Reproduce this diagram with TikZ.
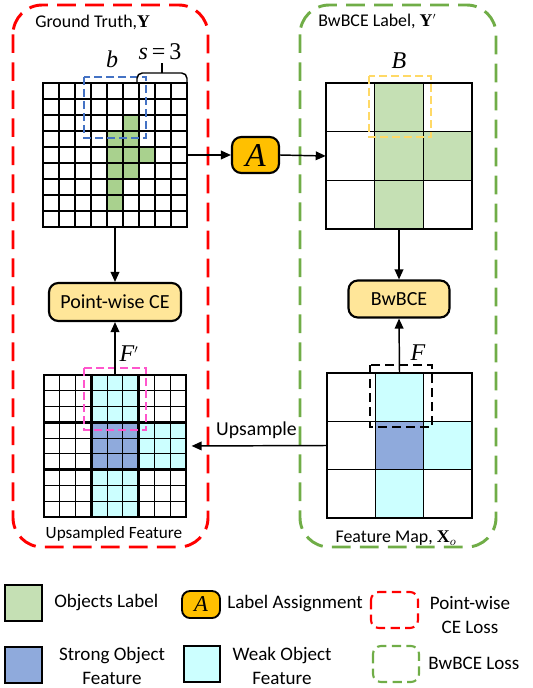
\documentclass[tikz,border=0pt]{standalone}
\usepackage{fontspec}
\setmainfont{Carlito}
\newfontfamily\tms{Liberation Serif}
\usetikzlibrary{arrows.meta,fit}

\definecolor{gtgreen}{HTML}{A9D18E}
\definecolor{lgreen}{HTML}{C5E0B4}
\definecolor{wcyan}{HTML}{CCFFFF}
\definecolor{sblue}{HTML}{8FAADC}
\definecolor{aorange}{HTML}{FFC000}
\definecolor{lorange}{HTML}{FFE699}
\definecolor{lossred}{HTML}{FF0000}
\definecolor{lossgreen}{HTML}{70AD47}
\definecolor{bdash}{HTML}{4472C4}
\definecolor{ydash}{HTML}{FFD966}
\definecolor{mdash}{HTML}{FF55CC}

% 9x9 grid with a thick line every three cells: #1 = x0, #2 = y0, #3 = side
\newcommand\ninegrid[3]{%
  \foreach \k in {1,2,4,5,7,8}{
    \draw[thinline] ({#1+\k*#3/9},#2) -- ({#1+\k*#3/9},{#2+#3});
    \draw[thinline] (#1,{#2+\k*#3/9}) -- ({#1+#3},{#2+\k*#3/9});
  }
  \foreach \k in {3,6}{
    \draw[thickline] ({#1+\k*#3/9},#2) -- ({#1+\k*#3/9},{#2+#3});
    \draw[thickline] (#1,{#2+\k*#3/9}) -- ({#1+#3},{#2+\k*#3/9});
  }
  \draw[thickline] (#1,#2) rectangle ({#1+#3},{#2+#3});
}
% 3x3 grid: #1 = x0, #2 = y0, #3 = side
\newcommand\threegrid[3]{%
  \foreach \k in {1,2}{
    \draw[midline] ({#1+\k*#3/3},#2) -- ({#1+\k*#3/3},{#2+#3});
    \draw[midline] (#1,{#2+\k*#3/3}) -- ({#1+#3},{#2+\k*#3/3});
  }
  \draw[midline] (#1,#2) rectangle ({#1+#3},{#2+#3});
}
% fill one cell: #1 colour, #2 x0, #3 y0, #4 cell size, #5 column, #6 row
\newcommand\cellfill[6]{%
  \fill[#1] ({#2+#5*#4},{#3+#6*#4}) rectangle ++(#4,#4);
}

\tikzset{
  thinline/.style={line width=0.8pt},
  thickline/.style={line width=2pt},
  midline/.style={line width=1.1pt},
  lossbox/.style={line width=2.2pt, rounded corners=22pt, dash pattern=on 14pt off 7pt},
  smallloss/.style={line width=1.6pt, rounded corners=6pt, dash pattern=on 7pt off 4pt},
  selbox/.style={line width=1.3pt, dash pattern=on 6pt off 3pt},
  flow/.style={line width=1.1pt, -{Triangle[length=7.5pt,width=6.5pt]}},
  opbox/.style={draw, line width=1.6pt, rounded corners=7pt, fill=lorange, font=\fontsize{15}{16}\selectfont, inner sep=0pt},
  assign/.style={draw, line width=1.6pt, rounded corners=7pt, fill=aorange, inner sep=0pt},
  gridarea/.style={inner sep=0pt},
  title/.style={font=\fontsize{13.4}{15}\selectfont, inner sep=0pt},
  mathlab/.style={font=\fontsize{18}{20}\selectfont\tms\itshape, inner sep=0pt},
  legtext/.style={font=\fontsize{14.3}{18}\selectfont, inner sep=0pt, align=center},
  swatch/.style={draw, line width=1.6pt},
}

\begin{document}
\begin{tikzpicture}[x=0.75pt,y=-0.75pt]
\useasboundingbox (0,0) rectangle (532,688);

% ---------- loss regions ----------
\draw[lossbox, lossred] (13,5) rectangle (208,547);
\draw[lossbox, lossgreen] (300,5) rectangle (496,547);

\node[title, anchor=west] (tgt) at (35,22) {Ground Truth,{\tms\bfseries Y}};
\node[title, anchor=west] (tlab) at (318,21) {BwBCE Label, {\tms\bfseries Y}$^{\scriptscriptstyle\prime}$};

% ---------- ground truth, 9x9 ----------
\foreach \c/\r in {5/2,4/3,5/3,4/4,5/4,6/4,4/5,5/5,4/6,4/7}{
  \cellfill{gtgreen}{43}{83}{16}{\c}{\r}
}
\ninegrid{43}{83}{144}
\node[gridarea, fit={(43,83)(187,227)}] (gt) {};
\draw[selbox, bdash] (84,77) rectangle (146,138);
\node[mathlab] (lb) at (112,59) {b};
\node[mathlab] (ls) at (160,52) {s{\upshape\,=\,3}};
\draw[line width=1.1pt, rounded corners=4pt] (137,83) -- (137,73) -- (187,73) -- (187,83);
\draw[line width=1.5pt] (162,73) -- (162,63);

% ---------- label assignment ----------
\node[assign, minimum width=47*0.75pt, minimum height=36*0.75pt,
      font=\fontsize{25}{26}\selectfont\tms\itshape] (A) at (255.5,155) {A};

% ---------- BwBCE label, 3x3 ----------
\foreach \c/\r in {1/0,1/1,2/1,1/2}{
  \cellfill{lgreen}{326}{83}{146/3}{\c}{\r}
}
\threegrid{326}{83}{146}
\node[gridarea, fit={(326,83)(472,229)}] (lab) {};
\draw[selbox, ydash] (369,76) rectangle (431,137);
\node[mathlab] (lB) at (399,61) {B};

% ---------- losses ----------
\node[opbox, minimum width=132*0.75pt, minimum height=38*0.75pt] (pce) at (115,302) {Point-wise CE};
\node[opbox, minimum width=101*0.75pt, minimum height=37*0.75pt] (bw) at (399,299) {BwBCE};

% ---------- upsampled feature, 9x9 ----------
\foreach \c/\r in {1/0,2/1,1/2}{
  \fill[wcyan] ({44+\c*142/3},{375+\r*142/3}) rectangle ++(142/3,142/3);
}
\fill[sblue] ({44+142/3},{375+142/3}) rectangle ++(142/3,142/3);
\ninegrid{44}{375}{142}
\node[gridarea, fit={(44,375)(186,517)}] (up) {};
\draw[selbox, mdash] (84,368) rectangle (146,430);
\node[mathlab] (lFp) at (129,354) {F$^{\scriptscriptstyle\prime}$};
\node[title, font=\fontsize{12.9}{15}\selectfont] (tup) at (114,534) {Upsampled Feature};

% ---------- feature map, 3x3 ----------
\foreach \c/\r in {1/0,2/1,1/2}{
  \cellfill{wcyan}{327}{373}{145/3}{\c}{\r}
}
\cellfill{sblue}{327}{373}{145/3}{1}{1}
\threegrid{327}{373}{145}
\node[gridarea, fit={(327,373)(472,518)}] (fm) {};
\draw[selbox, dash pattern=on 7pt off 3.5pt] (370,365) rectangle (432,427);
\node[mathlab] (lF) at (418,353) {F};
\node[title] (tfm) at (396,538) {Feature Map, {\tms\bfseries X}$_{\scriptstyle o}$};

% ---------- connectors ----------
\draw[flow] (gt.east) -- (A.west);
\draw[flow] (A.east) -- (lab.west);
\draw[flow] (gt.south) -- (pce.north);
\draw[flow] (up.north) -- (pce.south);
\draw[flow] (lab.south) -- (bw.north);
\draw[flow] (fm.north) -- (bw.south);
\draw[flow, shorten >=4pt] (fm.west) -- node[above, inner sep=0pt, yshift=5pt, font=\fontsize{14.8}{16}\selectfont] (lup) {Upsample} (up.east);

% ---------- legend ----------
\draw[swatch, fill=lgreen] (5,585) rectangle (42,621);
\node[legtext, anchor=west] (l1) at (54,603) {Objects Label};
\node[assign, minimum width=38*0.75pt, minimum height=27*0.75pt, line width=1.4pt, rounded corners=6pt,
      font=\fontsize{17}{18}\selectfont\tms\itshape] (lA) at (201,604.5) {A};
\node[legtext, anchor=west] (l2) at (227,604) {Label Assignment};
\draw[smallloss, lossred] (371,592) rectangle (418,628);
\node[legtext] (l3) at (470,615) {Point-wise\\CE Loss};

\draw[swatch, fill=sblue] (5,647) rectangle (42,683);
\node[legtext] (l4) at (112,666) {Strong Object\\Feature};
\draw[swatch, fill=wcyan] (184,646) rectangle (220,682);
\node[legtext] (l5) at (282,666) {Weak Object\\Feature};
\draw[smallloss, lossgreen] (373,646) rectangle (419,682);
\node[legtext, anchor=west] (l6) at (428,663) {BwBCE Loss};
\end{tikzpicture}
\end{document}
